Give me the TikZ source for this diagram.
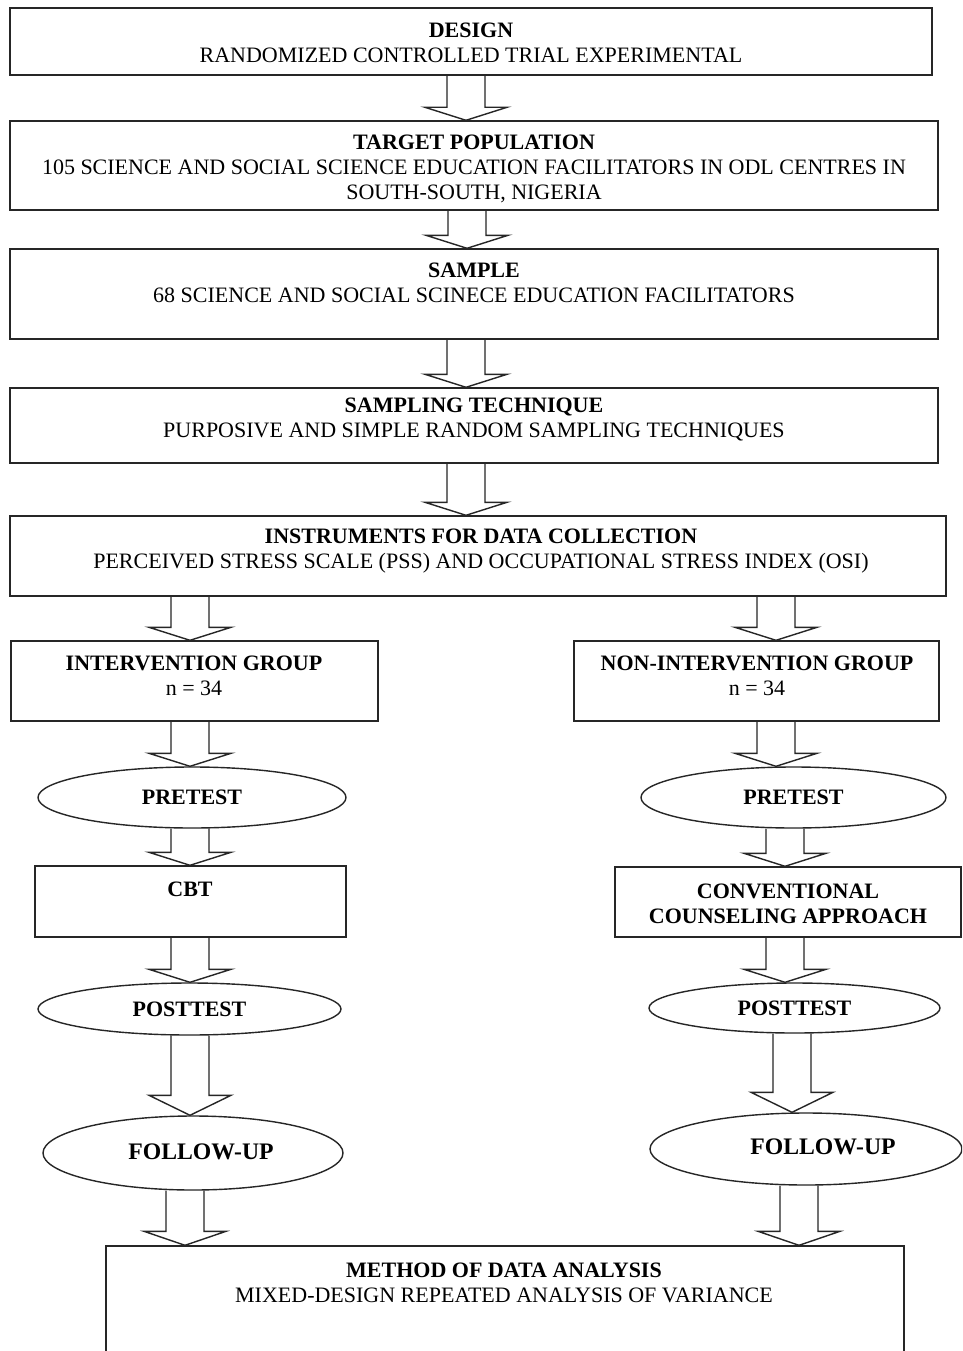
\documentclass[tikz,border=0pt]{standalone}
\usepackage{fontspec}
\setmainfont{Liberation Serif}
\usetikzlibrary{calc,shapes.geometric}
\tikzset{
  box/.style={draw=black!85, line width=1.4pt, rectangle, inner sep=0pt},
  oval/.style={draw=black!85, line width=1.4pt, ellipse, inner sep=0pt},
  txt/.style={align=center, inner sep=0pt, font=\fontsize{22}{25}\selectfont},
  bigtxt/.style={inner sep=0pt, font=\fontsize{23.7}{27}\selectfont\bfseries},
  blockarrow/.style={draw=black!85, line width=1.4pt, line join=miter},
}
\newcommand{\BlockArrow}[4][13]{%
  \draw[blockarrow] ($(#2.south -| #4,0)+(-19,0)$) -- ($(#3.north -| #4,0)+(-19,-#1)$)
    -- ($(#3.north -| #4,0)+(-41,-#1)$) -- (#3.north -| #4,0)
    -- ($(#3.north -| #4,0)+(41,-#1)$) -- ($(#3.north -| #4,0)+(19,-#1)$)
    -- ($(#2.south -| #4,0)+(19,0)$);}

\begin{document}
\begin{tikzpicture}[x=1pt, y=-1pt]
\useasboundingbox (0,0) rectangle (962,1351);
\fill[white] (0,0) rectangle (962,1351);
\clip (0,0) rectangle (962,1351);

\node[box, minimum width=922pt, minimum height=67pt] (design) at (471,41.5) {};
\node[txt] (design-t) at (471,43) {\textbf{DESIGN}\\RANDOMIZED CONTROLLED TRIAL EXPERIMENTAL};

\node[box, minimum width=928pt, minimum height=89pt] (target) at (474,165.5) {};
\node[txt] (target-t) at (474,169) {\textbf{TARGET POPULATION}\\105 SCIENCE AND SOCIAL SCIENCE EDUCATION FACILITATORS IN ODL CENTRES IN\\SOUTH-SOUTH, NIGERIA};

\node[box, minimum width=928pt, minimum height=90pt] (sample) at (474,294) {};
\node[txt] (sample-t) at (474,283) {\textbf{SAMPLE}\\68 SCIENCE AND SOCIAL SCINECE EDUCATION FACILITATORS};

\node[box, minimum width=928pt, minimum height=75pt] (technique) at (474,425.5) {};
\node[txt] (technique-t) at (474,419) {\textbf{SAMPLING TECHNIQUE}\\PURPOSIVE AND SIMPLE RANDOM SAMPLING TECHNIQUES};

\node[box, minimum width=936pt, minimum height=80pt] (instruments) at (478,556) {};
\node[txt] (instruments-t) at (481,551) {\textbf{INSTRUMENTS FOR DATA COLLECTION}\\PERCEIVED STRESS SCALE (PSS) AND OCCUPATIONAL STRESS INDEX (OSI)};

\node[box, minimum width=367pt, minimum height=80pt] (intgroup) at (194.5,681) {};
\node[txt] (intgroup-t) at (194,676) {\textbf{INTERVENTION GROUP}\\n = 34};
\node[box, minimum width=365pt, minimum height=80pt] (nongroup) at (756.5,681) {};
\node[txt] (nongroup-t) at (757,676) {\textbf{NON-INTERVENTION GROUP}\\n = 34};

\node[oval, txt, minimum width=308pt, minimum height=61pt] (pretestL) at (192,797.5) {\textbf{PRETEST}};
\node[oval, txt, minimum width=305pt, minimum height=61pt] (pretestR) at (793.5,797.5) {\textbf{PRETEST}};

\node[box, minimum width=311pt, minimum height=71pt] (cbt) at (190.5,901.5) {};
\node[txt] (cbt-t) at (190,889) {\textbf{CBT}};
\node[box, minimum width=346pt, minimum height=70pt] (conv) at (788,902) {};
\node[txt] (conv-t) at (788,904) {\textbf{CONVENTIONAL}\\\textbf{COUNSELING APPROACH}};

\node[oval, txt, minimum width=303pt, minimum height=52pt] (posttestL) at (189.5,1009) {\textbf{POSTTEST}};
\node[oval, txt, minimum width=291pt, minimum height=50pt] (posttestR) at (794.5,1008) {\textbf{POSTTEST}};

\node[oval, minimum width=300pt, minimum height=74pt] (followL) at (193,1153) {};
\node[bigtxt] (followL-t) at (201,1152) {FOLLOW-UP};
\node[oval, minimum width=312pt, minimum height=72pt] (followR) at (806,1149) {};
\node[bigtxt] (followR-t) at (823,1147) {FOLLOW-UP};

\node[box, minimum width=798pt, minimum height=160pt] (analysis) at (505,1326) {};
\node[txt] (analysis-t) at (504,1283) {\textbf{METHOD OF DATA ANALYSIS}\\MIXED-DESIGN REPEATED ANALYSIS OF VARIANCE};

\BlockArrow{design}{target}{466}
\BlockArrow{target}{sample}{467}
\BlockArrow{sample}{technique}{466}
\BlockArrow{technique}{instruments}{466}
\BlockArrow{instruments}{intgroup}{190}
\BlockArrow{instruments}{nongroup}{776}
\BlockArrow{intgroup}{pretestL}{190}
\BlockArrow{nongroup}{pretestR}{776}
\BlockArrow{pretestL}{cbt}{190}
\BlockArrow{pretestR}{conv}{785}
\BlockArrow{cbt}{posttestL}{190}
\BlockArrow{conv}{posttestR}{785}
\BlockArrow[20]{posttestL}{followL}{190}
\BlockArrow[20]{posttestR}{followR}{792}
\BlockArrow[14]{followL}{analysis}{185}
\BlockArrow[14]{followR}{analysis}{799}
\end{tikzpicture}
\end{document}
